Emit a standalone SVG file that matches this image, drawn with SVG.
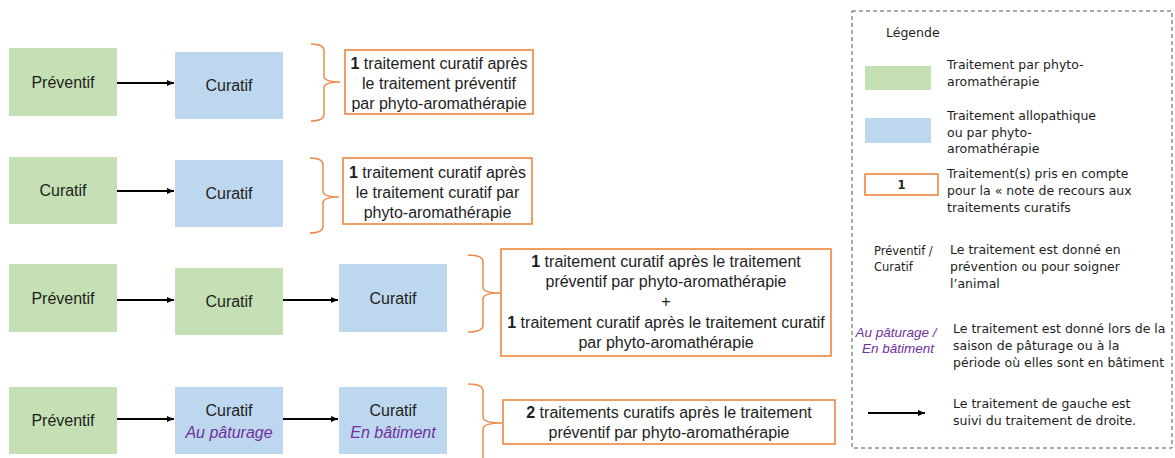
<svg xmlns="http://www.w3.org/2000/svg" width="1175" height="458" viewBox="0 0 1175 458">
<defs>
<marker id="ah" markerUnits="userSpaceOnUse" markerWidth="8" markerHeight="8" refX="7" refY="4" orient="auto">
<path d="M0,1 L7,4 L0,7 Z" fill="#000"/>
</marker>
<style>
.g{fill:#C5E0B4}
.b{fill:#BDD7EE}
.lbl{font-family:"Liberation Sans",Arial,sans-serif;font-size:16px;fill:#1e1e1e;text-anchor:middle}
.it{font-style:italic;fill:#7030A0}
.note{fill:#fff;stroke:#ED7D31;stroke-width:1.5}
.brace{fill:none;stroke:#EE8A4A;stroke-width:1.5}
.arr{stroke:#000;stroke-width:2;fill:none;marker-end:url(#ah)}
.lg{font-family:"DejaVu Sans",Verdana,sans-serif;font-size:12.5px;fill:#1e1e1e}
.lgs{font-family:"DejaVu Sans",Verdana,sans-serif;font-size:11.5px;fill:#1e1e1e}
</style>
</defs>
<rect width="1175" height="458" fill="#fff"/>

<g id="r1-preventif"><rect class="g" x="9" y="48" width="108" height="68"/><text class="lbl" x="63" y="88">Préventif</text></g>
<g id="r1-curatif"><rect class="b" x="175" y="52" width="108" height="67"/><text class="lbl" x="229" y="91">Curatif</text></g>
<g id="r1-note"><rect class="note" x="345" y="50" width="188" height="64"/>
<text class="lbl" x="439" y="69"><tspan font-weight="bold">1</tspan> traitement curatif après</text>
<text class="lbl" x="439" y="89">le traitement préventif</text>
<text class="lbl" x="439" y="109">par phyto-aromathérapie</text></g>

<g id="r2-curatif-a"><rect class="g" x="9" y="157" width="108" height="67"/><text class="lbl" x="63" y="196">Curatif</text></g>
<g id="r2-curatif-b"><rect class="b" x="175" y="160" width="108" height="67"/><text class="lbl" x="229" y="199">Curatif</text></g>
<g id="r2-note"><rect class="note" x="343" y="158" width="189" height="66"/>
<text class="lbl" x="437.5" y="178"><tspan font-weight="bold">1</tspan> traitement curatif après</text>
<text class="lbl" x="437.5" y="198">le traitement curatif par</text>
<text class="lbl" x="437.5" y="218">phyto-aromathérapie</text></g>

<g id="r3-preventif"><rect class="g" x="9" y="264" width="108" height="68"/><text class="lbl" x="63" y="304">Préventif</text></g>
<g id="r3-curatif-a"><rect class="g" x="175" y="268" width="108" height="67"/><text class="lbl" x="229" y="307">Curatif</text></g>
<g id="r3-curatif-b"><rect class="b" x="339" y="264" width="108" height="68"/><text class="lbl" x="393" y="304">Curatif</text></g>
<g id="r3-note"><rect class="note" x="501" y="249" width="330" height="107"/>
<text class="lbl" x="666" y="267"><tspan font-weight="bold">1</tspan> traitement curatif après le traitement</text>
<text class="lbl" x="666" y="287">préventif par phyto-aromathérapie</text>
<text class="lbl" x="666" y="307">+</text>
<text class="lbl" x="666" y="328"><tspan font-weight="bold">1</tspan> traitement curatif après le traitement curatif</text>
<text class="lbl" x="666" y="348">par phyto-aromathérapie</text></g>

<g id="r4-preventif"><rect class="g" x="9" y="387" width="108" height="67"/><text class="lbl" x="63" y="426">Préventif</text></g>
<g id="r4-curatif-a"><rect class="b" x="175" y="387" width="108" height="67"/><text class="lbl" x="229" y="416">Curatif</text><text class="lbl it" x="229" y="438">Au pâturage</text></g>
<g id="r4-curatif-b"><rect class="b" x="339" y="387" width="108" height="67"/><text class="lbl" x="393" y="416">Curatif</text><text class="lbl it" x="393" y="438">En bâtiment</text></g>
<g id="r4-note"><rect class="note" x="503" y="400" width="332" height="44"/>
<text class="lbl" x="669" y="418"><tspan font-weight="bold">2</tspan> traitements curatifs après le traitement</text>
<text class="lbl" x="669" y="438">préventif par phyto-aromathérapie</text></g>

<g id="connectors">
<path class="arr" d="M117,83 L174,83"/>
<path class="arr" d="M117,191 L174,191"/>
<path class="arr" d="M117,300 L174,300"/>
<path class="arr" d="M283,300 L338,300"/>
<path class="arr" d="M117,419 L174,419"/>
<path class="arr" d="M283,419 L338,419"/>
<path class="brace" d="M311,44 Q324,44 324,51 L324,76 Q324,82 340,82 Q324,82 324,88 L324,114 Q324,121 311,121"/>
<path class="brace" d="M310,158 Q323,158 323,165 L323,191 Q323,197 339,197 Q323,197 323,203 L323,226 Q323,233 310,233"/>
<path class="brace" d="M468,255 Q483,255 483,262 L483,287 Q483,293 500,293 Q483,293 483,299 L483,325 Q483,332 468,332"/>
<path class="brace" d="M468,384 Q483,384 483,391 L483,417 Q483,423 502,423 Q483,423 483,429 L483,465"/>
</g>

<g id="legend">
<rect x="852" y="11" width="320" height="437" fill="none" stroke="#555" stroke-width="1" stroke-dasharray="4,3"/>
<text class="lg" x="886" y="37">Légende</text>
<rect class="g" x="865" y="66" width="66" height="24"/>
<text class="lg" x="947" y="69">Traitement par phyto-</text>
<text class="lg" x="947" y="86">aromathérapie</text>
<rect class="b" x="865" y="118" width="66" height="25"/>
<text class="lg" x="947" y="120">Traitement allopathique</text>
<text class="lg" x="947" y="137">ou par phyto-</text>
<text class="lg" x="947" y="153">aromathérapie</text>
<rect class="note" x="865" y="174" width="73" height="21"/>
<text class="lgs" x="901.5" y="189" text-anchor="middle" font-weight="bold">1</text>
<text class="lg" x="947" y="178">Traitement(s) pris en compte</text>
<text class="lg" x="947" y="195">pour la « note de recours aux</text>
<text class="lg" x="947" y="212">traitements curatifs</text>
<text class="lgs" x="874" y="255">Préventif /</text>
<text class="lgs" x="874" y="271">Curatif</text>
<text class="lg" x="950" y="254">Le traitement est donné en</text>
<text class="lg" x="950" y="271">prévention ou pour soigner</text>
<text class="lg" x="950" y="288">l’animal</text>
<text class="lbl it" x="896" y="337" style="font-size:13.5px">Au pâturage /</text>
<text class="lbl it" x="898" y="353" style="font-size:13.5px">En bâtiment</text>
<text class="lg" x="953" y="333">Le traitement est donné lors de la</text>
<text class="lg" x="953" y="350">saison de pâturage ou à la</text>
<text class="lg" x="953" y="367">période où elles sont en bâtiment</text>
<path class="arr" d="M868,413 L925,413"/>
<text class="lg" x="953" y="408">Le traitement de gauche est</text>
<text class="lg" x="953" y="425">suivi du traitement de droite.</text>
</g>
</svg>
